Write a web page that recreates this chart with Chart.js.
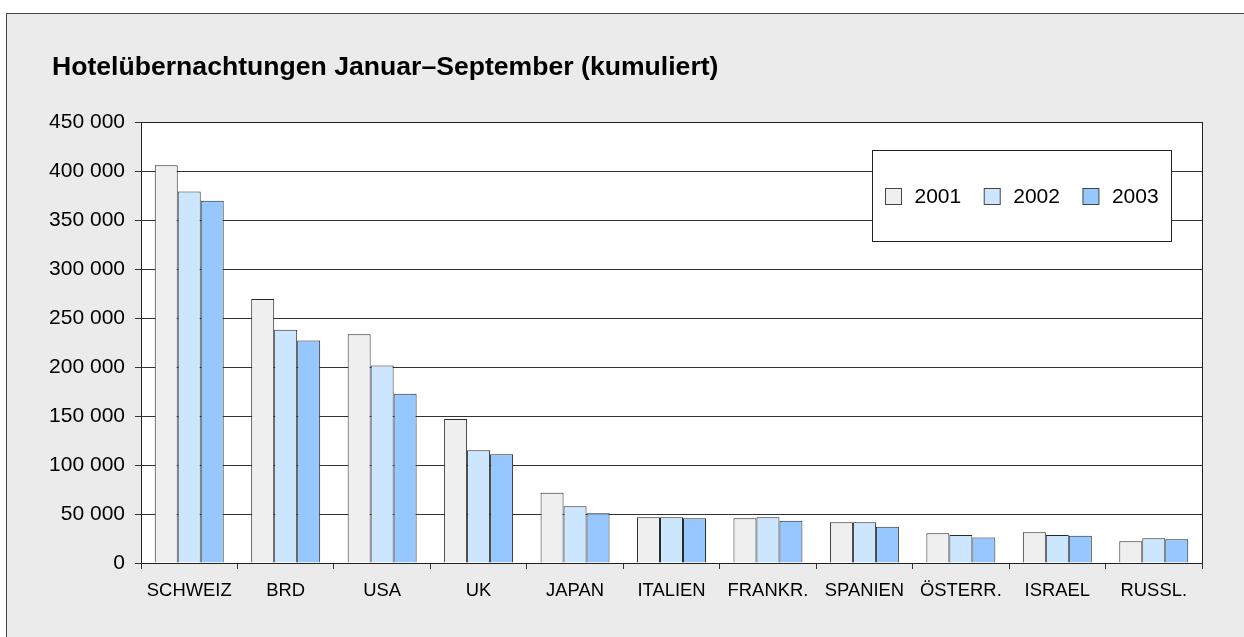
<!DOCTYPE html>
<html>
<head>
<meta charset="utf-8">
<script src="https://cdn.jsdelivr.net/npm/chart.js@4.4.0/dist/chart.umd.min.js"></script>
<style>
  html, body { margin: 0; padding: 0; background: #fff; overflow: hidden; }
  #frame {
    position: absolute; left: 6px; top: 13px; width: 1300px; height: 700px;
    background: #ebebeb; border-top: 1px solid #444; border-left: 1px solid #444;
  }
  #wrap { position: absolute; left: 0; top: 0; width: 1244px; height: 637px; }
</style>
</head>
<body>
<div id="frame"></div>
<div id="wrap"><canvas id="chartArea"></canvas></div>
<script>
const categories = ["SCHWEIZ", "BRD", "USA", "UK", "JAPAN", "ITALIEN", "FRANKR.", "SPANIEN", "ÖSTERR.", "ISRAEL", "RUSSL."];
const years = ["2001", "2002", "2003"];
const values2001 = [406000, 269500, 233500, 147000, 71700, 46600, 45600, 41500, 30300, 31300, 22100];
const values2002 = [379000, 238000, 201500, 115000, 57800, 46600, 46600, 41500, 28600, 28600, 25200];
const values2003 = [369700, 227000, 172800, 111000, 50700, 45600, 43200, 37000, 25900, 27900, 24200];
const yTickLabels = ["0", "50 000", "100 000", "150 000", "200 000", "250 000", "300 000", "350 000", "400 000", "450 000"];

const fontFamily = "'Liberation Sans', Arial, sans-serif";
const colors = ["#efefef", "#cce6ff", "#96c8ff"];

// title starts further right than the y axis labels
const titleShift = {
  id: "titleShift",
  afterLayout(chart) {
    if (chart.titleBlock) chart.titleBlock.left = 52;
  }
};

// white plot area + frame
const plotFrame = {
  id: "plotFrame",
  beforeDraw(chart) {
    const {ctx, chartArea: a} = chart;
    ctx.save();
    ctx.fillStyle = "#fff";
    ctx.fillRect(a.left, a.top, a.right - a.left, a.bottom - a.top);
    ctx.restore();
  },
  afterDatasetsDraw(chart) {
    const {ctx, chartArea: a} = chart;
    ctx.save();
    ctx.strokeStyle = "#222";
    ctx.lineWidth = 1;
    ctx.strokeRect(Math.round(a.left) + 0.5, Math.round(a.top) + 0.5,
      Math.round(a.right - a.left), Math.round(a.bottom - a.top));
    ctx.restore();
  }
};

// legend box inside the plot, top right
const boxLegend = {
  id: "boxLegend",
  afterDraw(chart) {
    const {ctx, chartArea: a} = chart;
    const w = 299, h = 91;
    const x = Math.round(a.right - 31 - w) + 0.5, y = Math.round(a.top + 28) + 0.5;
    ctx.save();
    ctx.fillStyle = "#fff";
    ctx.fillRect(x, y, w, h);
    ctx.strokeStyle = "#222";
    ctx.lineWidth = 1;
    ctx.strokeRect(x, y, w, h);
    ctx.font = "21px " + fontFamily;
    ctx.textBaseline = "middle";
    const cy = y + 46;
    let cx = x + 13;
    chart.data.datasets.forEach(ds => {
      ctx.fillStyle = ds.backgroundColor;
      ctx.fillRect(cx, cy - 8, 16, 16);
      ctx.strokeStyle = "#444";
      ctx.strokeRect(cx, cy - 8, 16, 16);
      cx += 29;
      ctx.fillStyle = "#000";
      ctx.fillText(ds.label, cx, cy + 1);
      cx += ctx.measureText(ds.label).width + 23;
    });
    ctx.restore();
  }
};

const chart = new Chart(document.getElementById("chartArea"), {
  type: "bar",
  data: {
    labels: categories,
    datasets: [values2001, values2002, values2003].map((vals, i) => ({
      label: years[i],
      data: vals,
      backgroundColor: colors[i],
      borderColor: "#2a2a2a",
      borderWidth: 1,
      borderSkipped: "bottom",
      categoryPercentage: 0.715,
      barPercentage: 1.0
    }))
  },
  options: {
    responsive: true,
    maintainAspectRatio: false,
    animation: false,
    layout: { padding: { left: 20, right: 42, top: 0, bottom: 34 } },
    plugins: {
      legend: { display: false },
      tooltip: { enabled: false },
      title: {
        display: true,
        text: "Hotelübernachtungen Januar–September (kumuliert)",
        align: "start",
        color: "#000",
        font: { family: fontFamily, size: 26.6, weight: "bold", lineHeight: 1.2 },
        padding: { top: 52, bottom: 38.1 }
      }
    },
    scales: {
      x: {
        grid: { drawOnChartArea: false, drawTicks: true, tickLength: 6, color: "#333" },
        border: { display: true, color: "#222" },
        ticks: { color: "#000", padding: 11, font: { family: fontFamily, size: 18.4 }, maxRotation: 0, autoSkip: false },
        afterFit(scale) { scale.height = 40; }
      },
      y: {
        min: 0,
        max: 450000,
        ticks: {
          stepSize: 50000,
          color: "#000",
          padding: 10,
          font: { family: fontFamily, size: 21 },
          callback: (v, i) => yTickLabels[i]
        },
        grid: { color: "#333", tickLength: 6, lineWidth: 1 },
        border: { display: true, color: "#222" },
        afterFit(scale) { scale.width = 121; }
      }
    }
  },
  plugins: [titleShift, plotFrame, boxLegend]
});
</script>
</body>
</html>
